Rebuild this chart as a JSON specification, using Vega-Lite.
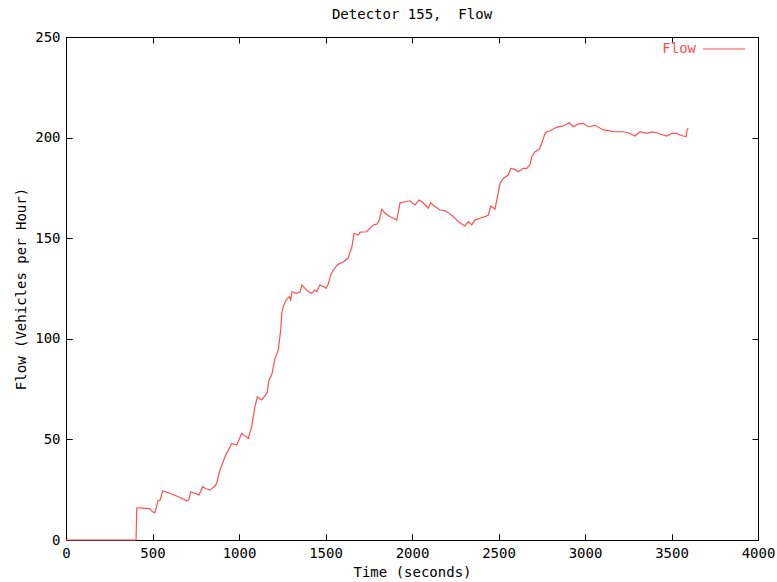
{
  "$schema": "https://vega.github.io/schema/vega-lite/v6.json",
  "autosize": {"type": "none"},
  "width": 692,
  "height": 503,
  "padding": {"left": 66, "top": 37, "right": 19, "bottom": 42},
  "background": "white",
  "title": {"text": "Detector 155,\u00a0\u00a0Flow", "font": "DejaVu Sans Mono", "fontSize": 14, "fontWeight": "normal", "color": "black", "offset": 5, "anchor": "middle"},
  "config": {
    "view": {"stroke": "black", "strokeWidth": 1},
    "axis": {"labelFont": "DejaVu Sans Mono", "labelFontSize": 14, "labelColor": "black", "titleFont": "DejaVu Sans Mono", "titleFontSize": 14, "titleFontWeight": "normal", "titleColor": "black", "domainColor": "black", "tickColor": "black", "tickWidth": 1, "grid": false, "ticks": true, "tickSize": -6, "labelPadding": 12, "format": "d", "labelFlush": false, "labelOverlap": false, "zindex": 1}
  },
  "data": {"values": [
    {"t":0,"flow":0},{"t":405,"flow":0},{"t":409,"flow":15.9},{"t":430,"flow":16},{"t":486,"flow":15.5},{"t":500,"flow":14},{"t":514,"flow":13.6},{"t":532,"flow":19.5},{"t":545,"flow":20},{"t":559,"flow":24.5},{"t":590,"flow":23.5},{"t":640,"flow":21.9},{"t":698,"flow":19.5},{"t":710,"flow":20},{"t":721,"flow":24},{"t":769,"flow":22.4},{"t":790,"flow":26.5},{"t":809,"flow":25.5},{"t":832,"flow":24.8},{"t":861,"flow":26.8},{"t":871,"flow":28.2},{"t":890,"flow":34.8},{"t":905,"flow":38},{"t":919,"flow":41.4},{"t":958,"flow":48},{"t":987,"flow":47.2},{"t":1016,"flow":53},{"t":1054,"flow":50.5},{"t":1073,"flow":56.3},{"t":1092,"flow":66},{"t":1106,"flow":71.2},{"t":1131,"flow":69.6},{"t":1150,"flow":71.6},{"t":1164,"flow":73.7},{"t":1173,"flow":79.5},{"t":1189,"flow":82},{"t":1208,"flow":90.3},{"t":1227,"flow":94.4},{"t":1241,"flow":104.4},{"t":1247,"flow":112.7},{"t":1256,"flow":116},{"t":1272,"flow":119.3},{"t":1291,"flow":121},{"t":1299,"flow":119.3},{"t":1306,"flow":123.4},{"t":1333,"flow":122.6},{"t":1353,"flow":123.4},{"t":1364,"flow":126.7},{"t":1382,"flow":125.1},{"t":1401,"flow":123.4},{"t":1420,"flow":122.6},{"t":1439,"flow":124.3},{"t":1449,"flow":123.4},{"t":1468,"flow":126.7},{"t":1491,"flow":125.9},{"t":1503,"flow":125.1},{"t":1516,"flow":127.2},{"t":1530,"flow":131.7},{"t":1545,"flow":134.2},{"t":1572,"flow":137},{"t":1600,"flow":138},{"t":1630,"flow":140},{"t":1645,"flow":144},{"t":1651,"flow":145},{"t":1665,"flow":152.4},{"t":1690,"flow":151.6},{"t":1700,"flow":153},{"t":1738,"flow":153.2},{"t":1757,"flow":154.9},{"t":1776,"flow":156.6},{"t":1799,"flow":157.1},{"t":1811,"flow":159},{"t":1825,"flow":164.4},{"t":1844,"flow":162.4},{"t":1873,"flow":160.7},{"t":1892,"flow":159.9},{"t":1912,"flow":159},{"t":1931,"flow":167.6},{"t":1960,"flow":168.1},{"t":1988,"flow":168.6},{"t":2017,"flow":166.5},{"t":2042,"flow":169},{"t":2065,"flow":167.6},{"t":2094,"flow":164.9},{"t":2108,"flow":167.6},{"t":2133,"flow":165.7},{"t":2162,"flow":164},{"t":2191,"flow":163.7},{"t":2210,"flow":162.7},{"t":2239,"flow":160.7},{"t":2268,"flow":158.2},{"t":2306,"flow":156.1},{"t":2325,"flow":158.2},{"t":2345,"flow":156.6},{"t":2364,"flow":159},{"t":2393,"flow":159.9},{"t":2422,"flow":160.7},{"t":2441,"flow":161.5},{"t":2455,"flow":166},{"t":2480,"flow":164.4},{"t":2490,"flow":169},{"t":2509,"flow":177.3},{"t":2528,"flow":179.8},{"t":2557,"flow":181.4},{"t":2570,"flow":184.7},{"t":2595,"flow":184.2},{"t":2615,"flow":183},{"t":2643,"flow":184.7},{"t":2663,"flow":184.7},{"t":2682,"flow":186.4},{"t":2692,"flow":190.5},{"t":2711,"flow":193},{"t":2736,"flow":194.2},{"t":2750,"flow":197.2},{"t":2769,"flow":202.1},{"t":2779,"flow":202.9},{"t":2798,"flow":203.4},{"t":2836,"flow":205.1},{"t":2875,"flow":205.8},{"t":2909,"flow":207.4},{"t":2932,"flow":205.4},{"t":2961,"flow":206.8},{"t":2990,"flow":207.1},{"t":3019,"flow":205.4},{"t":3058,"flow":206.1},{"t":3106,"flow":203.8},{"t":3135,"flow":203.5},{"t":3164,"flow":202.9},{"t":3221,"flow":202.9},{"t":3250,"flow":202.4},{"t":3289,"flow":200.8},{"t":3318,"flow":202.9},{"t":3357,"flow":202.1},{"t":3386,"flow":202.8},{"t":3414,"flow":202.4},{"t":3434,"flow":201.8},{"t":3472,"flow":200.8},{"t":3501,"flow":202.1},{"t":3530,"flow":202.1},{"t":3549,"flow":201.3},{"t":3584,"flow":200.4},{"t":3591,"flow":204.1},{"t":3597,"flow":204.6}
  ]},
  "layer": [
    {
      "mark": {"type": "line", "opacity": 0},
      "encoding": {
        "x": {"field": "t", "type": "quantitative", "scale": {"domain": [0, 4000], "nice": false}, "axis": {"orient": "bottom", "labels": false, "title": null, "domain": false, "values": [0,500,1000,1500,2000,2500,3000,3500,4000]}},
        "y": {"field": "flow", "type": "quantitative", "scale": {"domain": [0, 250], "nice": false}, "axis": {"orient": "left", "labels": false, "title": null, "domain": false, "values": [0,50,100,150,200,250]}}
      }
    },
    {
      "mark": {"type": "line", "strokeWidth": 1.2, "interpolate": "linear"},
      "encoding": {
        "x": {"field": "t", "type": "quantitative", "scale": {"domain": [0, 4000], "nice": false}, "axis": {"orient": "bottom", "title": "Time (seconds)", "values": [0,500,1000,1500,2000,2500,3000,3500,4000], "titlePadding": 5, "ticks": true, "tickSize": 6, "offset": -6, "domain": false, "labelPadding": 6}},
        "y": {"field": "flow", "type": "quantitative", "scale": {"domain": [0, 250], "nice": false}, "axis": {"orient": "left", "title": "Flow (Vehicles per Hour)", "values": [0,50,100,150,200,250], "titlePadding": 6, "ticks": true, "tickSize": 6, "offset": -6, "domain": false, "labelPadding": 6}},
        "color": {"datum": "Flow", "type": "nominal", "scale": {"range": ["#ff5050"]}, "legend": {"orient": "none", "legendX": 636, "legendY": -10, "title": null, "symbolType": "stroke", "symbolSize": 1764, "symbolStrokeWidth": 1.2, "labelAlign": "right", "labelOffset": -50, "labelFont": "DejaVu Sans Mono", "labelFontSize": 14, "labelColor": "#ff5050"}}
      }
    },
    {
      "mark": {"type": "line", "opacity": 0},
      "encoding": {
        "x": {"field": "t", "type": "quantitative", "scale": {"domain": [0, 4000], "nice": false}, "axis": {"orient": "top", "labels": false, "title": null, "values": [0,500,1000,1500,2000,2500,3000,3500,4000]}},
        "y": {"field": "flow", "type": "quantitative", "scale": {"domain": [0, 250], "nice": false}, "axis": {"orient": "right", "labels": false, "title": null, "values": [0,50,100,150,200,250]}}
      }
    }
  ],
  "resolve": {"scale": {"x": "independent", "y": "independent"}}
}
